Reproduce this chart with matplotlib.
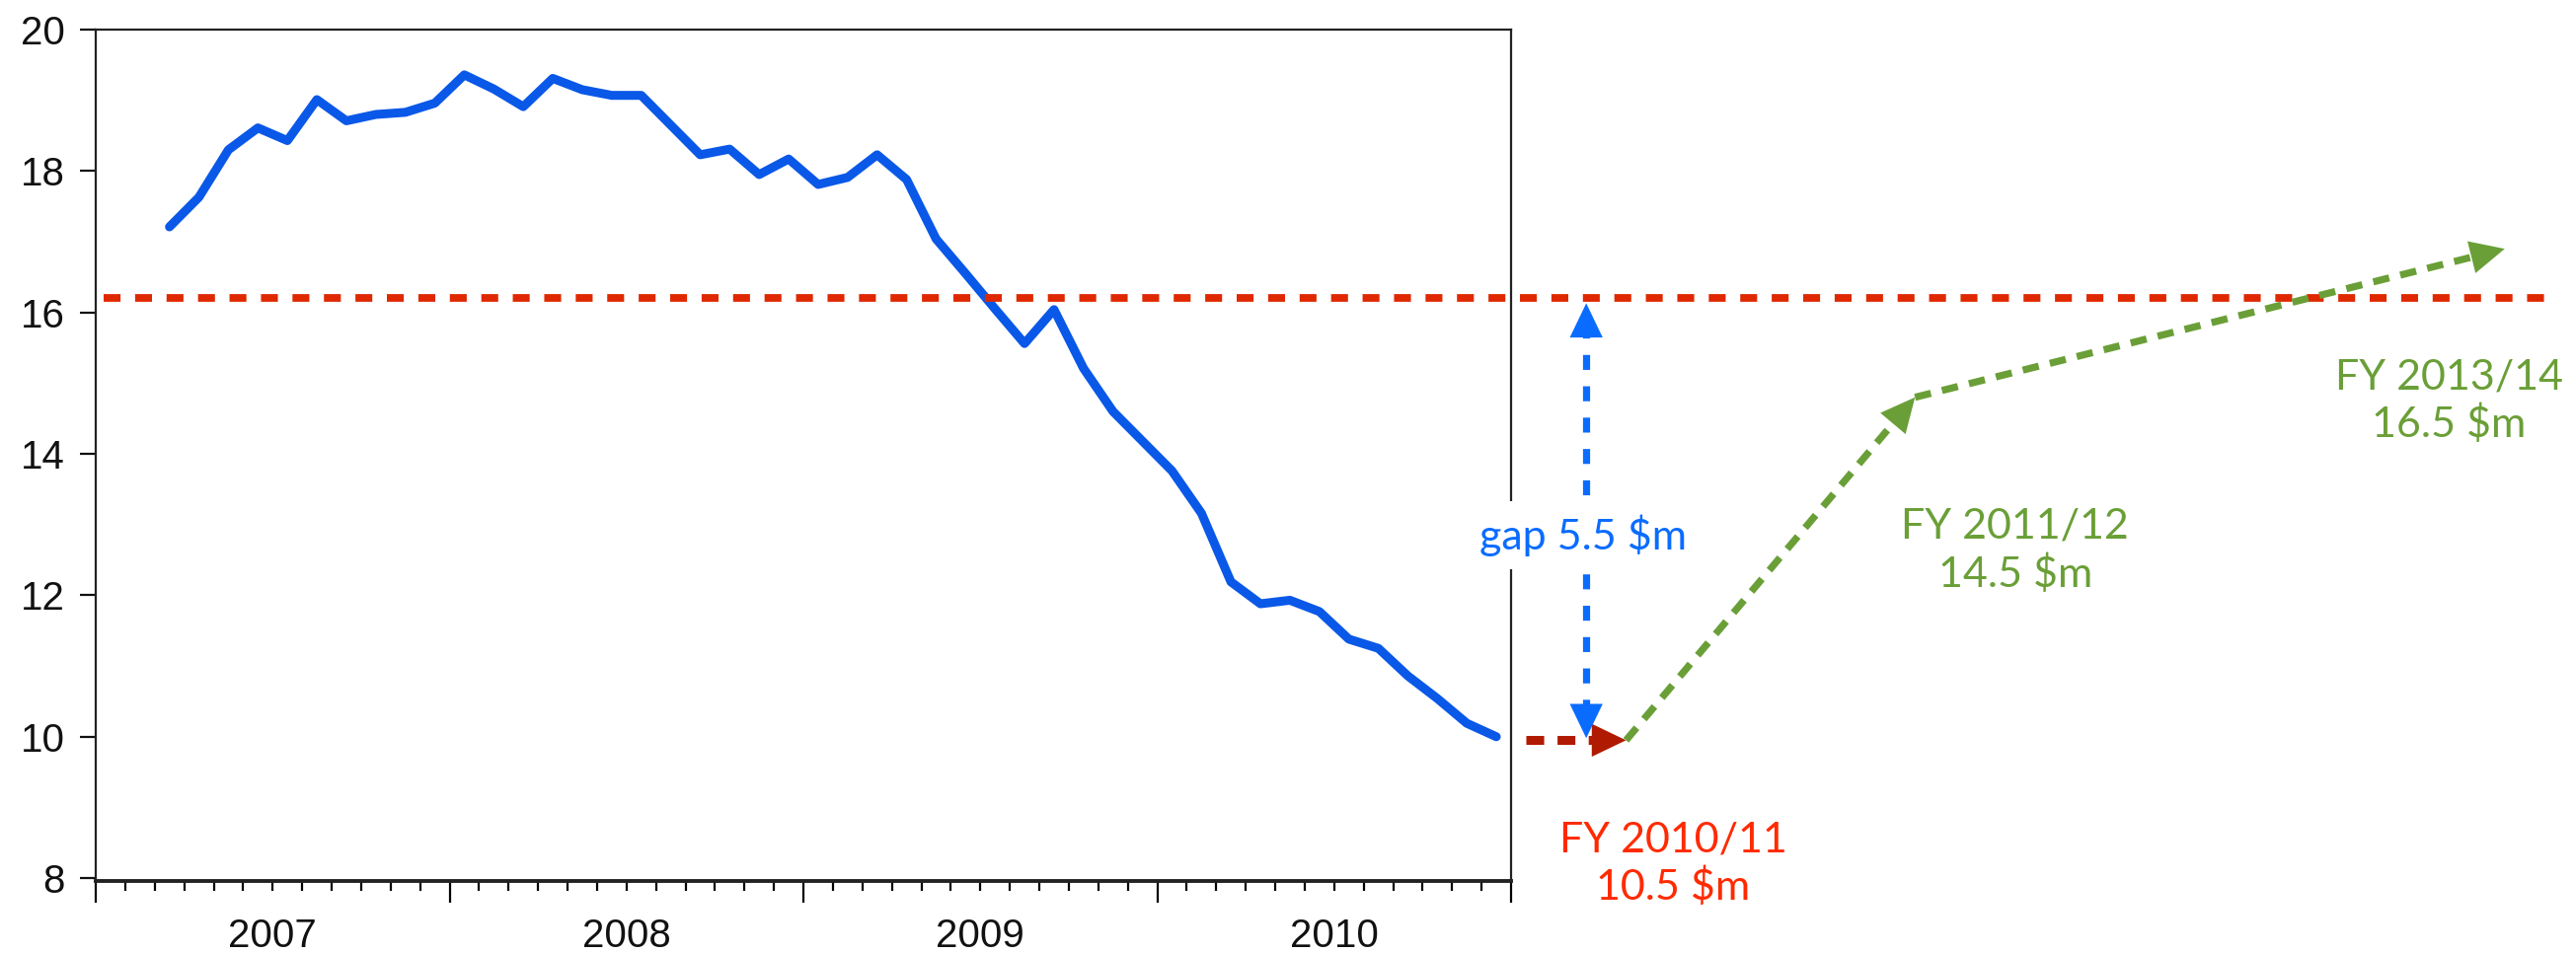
import matplotlib
matplotlib.use('Agg')
import matplotlib.pyplot as plt
from matplotlib.patches import FancyArrowPatch
from matplotlib.ticker import MultipleLocator, FuncFormatter, NullFormatter
import numpy as np

# monthly series, Mar 2007 .. Dec 2010
values = [17.21, 17.63, 18.30, 18.61, 18.43, 19.01, 18.71, 18.80, 18.83, 18.96,
          19.36, 19.16, 18.91, 19.31, 19.15, 19.07, 19.07, 18.65, 18.23, 18.31,
          17.95, 18.17, 17.81, 17.91, 18.23, 17.88, 17.04, 16.55, 16.05, 15.56,
          16.04, 15.21, 14.60, 14.18, 13.76, 13.16, 12.19, 11.88, 11.93, 11.77,
          11.38, 11.25, 10.86, 10.54, 10.19, 10.00]
first_month = 2          # March 2007 (months counted from Jan 2007)
years = ['2007', '2008', '2009', '2010']

target = 16.2            # dashed red reference level
current = 9.95           # where the projection starts
gap_label = 'gap 5.5 $m'
fy_labels = ['FY 2010/11\n10.5 $m', 'FY 2011/12\n14.5 $m', 'FY 2013/14\n16.5 $m']
proj_x = [48.5, 51.9, 61.7, 81.7]
proj_y = [current, current, 14.8, 16.9]

months = np.arange(first_month, first_month + len(values)) + 0.5

fig = plt.figure(figsize=(26.1, 9.66), dpi=100)
ax = fig.add_axes([97/2610, 1 - 893/966, (1531 - 97)/2610, (893 - 30)/966])

ax.plot(months, values, color='#0a58e8', lw=6.5, solid_joinstyle='round',
        solid_capstyle='round', zorder=3)
ax.set_xlim(0, 48)
ax.set_ylim(7.96, 20)

# axis styling
tick_font = 'Liberation Sans'
ax.set_yticks(np.arange(8, 21, 2))
ax.xaxis.set_major_locator(MultipleLocator(12))
ax.xaxis.set_minor_locator(MultipleLocator(1))
ax.xaxis.set_major_formatter(NullFormatter())
ax.xaxis.set_minor_formatter(FuncFormatter(
    lambda v, p: years[int(round(v)) // 12] if int(round(v)) % 12 == 6 else ''))
ax.tick_params(axis='y', direction='out', length=11.5, width=1.6, pad=11,
               labelsize=29, colors='#111111')
ax.tick_params(axis='x', which='major', direction='out', length=16, width=1.6)
ax.tick_params(axis='x', which='minor', direction='out', length=7, width=1.6,
               pad=20, labelsize=29, labelcolor='#111111')
for lab in ax.get_yticklabels() + ax.get_xticklabels(minor=True):
    lab.set_fontfamily(tick_font)
for s in ax.spines.values():
    s.set_linewidth(1.6)
    s.set_color('#222222')
ax.spines['bottom'].set_linewidth(2.8)

# reference level line
ax.plot([0.27, 83.06], [target, target], color='#e02800', lw=5.6,
        ls=(0, (2.2, 1.9)), clip_on=False, zorder=4)

HL = 25 * 100 / 72   # head length in px


def head(p_from, p_to, color):
    a = FancyArrowPatch(p_from, p_to, arrowstyle='-|>,head_length=25,head_width=12',
                        mutation_scale=1, color=color, lw=0, shrinkA=0, shrinkB=0,
                        clip_on=False, zorder=6)
    ax.add_patch(a)


def dashed_arrow(p0, p1, color, lw, dash, both=False):
    t = ax.transData
    a = t.transform(p0)
    b = t.transform(p1)
    d = (b - a) / np.hypot(*(b - a))
    a2 = a + d * HL * 0.7 if both else a
    b2 = b - d * HL * 0.7
    q = t.inverted().transform(np.array([a2, b2]))
    ax.plot(q[:, 0], q[:, 1], color=color, lw=lw, ls=(0, dash),
            clip_on=False, zorder=5)
    back = t.inverted().transform(b - d * HL * 1.3)
    head(tuple(back), p1, color)
    if both:
        fwd = t.inverted().transform(a + d * HL * 1.3)
        head(tuple(fwd), p0, color)


# current level arrow (dark red)
dashed_arrow((proj_x[0], proj_y[0]), (proj_x[1], proj_y[1]), '#b01a00', 6.5, (2.0, 1.5))
# projection (green)
for i in range(1, 3):
    dashed_arrow((proj_x[i], proj_y[i]), (proj_x[i + 1], proj_y[i + 1]),
                 '#6a9f37', 5.2, (2.3, 1.6))
# gap arrow (blue)
dashed_arrow((50.55, 9.98), (50.55, 16.13), '#0a6cff', 5.2, (2.1, 2.3), both=True)

ann_font = 'Lato'
ax.text(50.45, 12.85, gap_label, color='#0a6cff', fontsize=31, family=ann_font,
        ha='center', va='center', zorder=7,
        bbox=dict(boxstyle='square,pad=0.3', fc='white', ec='none'))

fy_pos = [(53.5, 8.2), (65.1, 12.63), (79.8, 14.74)]
fy_cols = ['#ff2a00', '#6a9f37', '#6a9f37']
for lab, (x, y), c in zip(fy_labels, fy_pos, fy_cols):
    ax.text(x, y, lab, color=c, fontsize=31, family=ann_font, ha='center',
            va='center', multialignment='center', linespacing=1.25, zorder=7)

fig.savefig('out.png', dpi=100, facecolor='white')
